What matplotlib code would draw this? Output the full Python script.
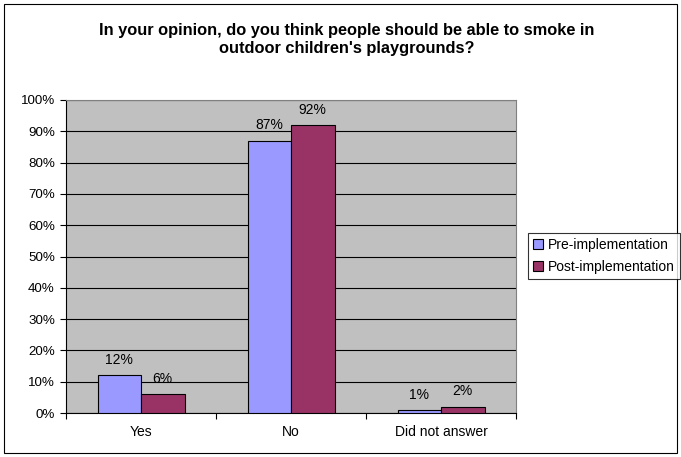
import matplotlib.pyplot as plt
import numpy as np
from matplotlib.patches import Rectangle

plt.rcParams['font.family'] = ['Liberation Sans', 'DejaVu Sans']

categories = ["Yes", "No", "Did not answer"]
pre_vals = [12, 87, 1]
post_vals = [6, 92, 2]
series_names = ["Pre-implementation", "Post-implementation"]
colors = ["#9999FF", "#993366"]

fig = plt.figure(figsize=(6.81, 4.57), dpi=100)
ax = fig.add_axes([66 / 681, 44 / 457, 450 / 681, 313 / 457])
ax.set_facecolor("#C0C0C0")

x = np.arange(len(categories))
w = 0.29
b1 = ax.bar(x - w / 2, pre_vals, w, color=colors[0], edgecolor="black", linewidth=0.8,
            label=series_names[0], zorder=3)
b2 = ax.bar(x + w / 2, post_vals, w, color=colors[1], edgecolor="black", linewidth=0.8,
            label=series_names[1], zorder=3)

# value labels above each bar
for bars, vals in [(b1, pre_vals), (b2, post_vals)]:
    for r, v in zip(bars, vals):
        ax.annotate(f"{v}%", (r.get_x() + r.get_width() / 2, v), xytext=(0, 6),
                    textcoords="offset points", ha="center", va="bottom",
                    fontsize=10, zorder=4)

ax.set_xlim(-0.5, 2.5)
ax.set_ylim(0, 100)
ax.set_yticks(range(0, 101, 10))
ax.set_yticklabels([f"{t}%" for t in range(0, 101, 10)], fontsize=9.6)
ax.set_xticks([-0.5, 0.5, 1.5, 2.5])
ax.set_xticklabels([])
ax.set_xticks(x, minor=True)
ax.set_xticklabels(categories, minor=True, fontsize=10)
ax.tick_params(axis="x", which="major", length=4, direction="out")
ax.tick_params(axis="x", which="minor", length=0, pad=9)
ax.tick_params(axis="y", length=4, direction="out", pad=4)
ax.yaxis.grid(True, color="black", linewidth=0.8, zorder=1)
ax.set_axisbelow(True)
for s in ["top", "right"]:
    ax.spines[s].set_color("#808080")
for s in ["left", "bottom"]:
    ax.spines[s].set_color("black")

fig.text(347 / 681, 1 - 30 / 457, "In your opinion, do you think people should be able to smoke in",
         ha="center", va="center", fontsize=11.8, fontweight="bold")
fig.text(347 / 681, 1 - 49 / 457, "outdoor children's playgrounds?",
         ha="center", va="center", fontsize=11.8, fontweight="bold")

leg = fig.legend(loc="upper left", bbox_to_anchor=(528 / 681, 1 - 233 / 457), fontsize=10,
                 frameon=True, fancybox=False, edgecolor="black", handlelength=0.7,
                 handleheight=0.7, handletextpad=0.4, borderpad=0.35, labelspacing=0.6,
                 borderaxespad=0)
leg.get_frame().set_linewidth(0.8)

fig.add_artist(Rectangle((4 / 681, 4 / 457), 673 / 681, 449 / 457, transform=fig.transFigure,
                         fill=False, edgecolor="black", linewidth=0.8))

fig.savefig("out.png", dpi=100)
